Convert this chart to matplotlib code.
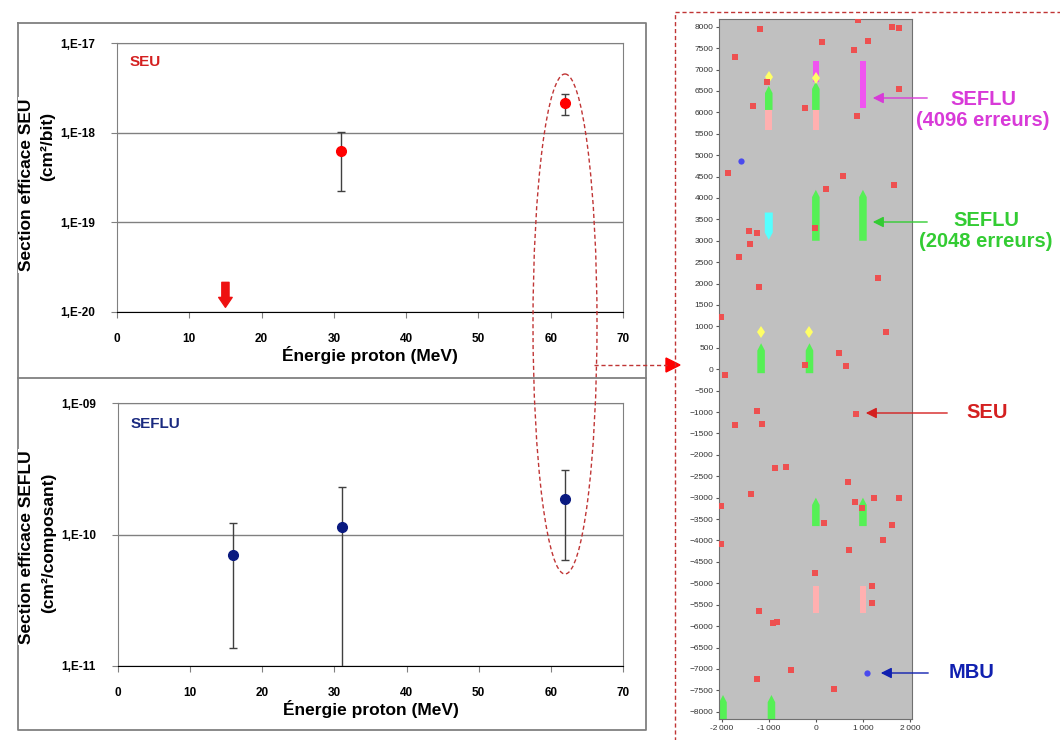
import matplotlib
matplotlib.use("Agg")
import matplotlib.pyplot as plt
from matplotlib.patches import Ellipse, Rectangle, Polygon
from matplotlib.ticker import NullLocator

plt.rcParams['font.family'] = ['Liberation Sans', 'DejaVu Sans']

W, H = 1060, 740

# ---- SEU cross section (cm2/bit) vs proton energy
seu_energy = [31, 62]
seu_sigma = [6.3e-19, 2.15e-18]
seu_low = [2.23e-19, 1.58e-18]
seu_high = [1.02e-18, 2.7e-18]
seu_limit_energy = 15          # no event seen -> down arrow

# ---- SEFLU cross section (cm2/composant)
seflu_energy = [16, 31, 62]
seflu_sigma = [7.0e-11, 1.15e-10, 1.85e-10]
seflu_low = [1.37e-11, 1e-12, 6.4e-11]
seflu_high = [1.23e-10, 2.28e-10, 3.08e-10]

seu_ticks = [1e-20, 1e-19, 1e-18, 1e-17]
seu_ticklabels = ["1,E-20", "1,E-19", "1,E-18", "1,E-17"]
seflu_ticks = [1e-11, 1e-10, 1e-9]
seflu_ticklabels = ["1,E-11", "1,E-10", "1,E-09"]
energy_ticks = [0, 10, 20, 30, 40, 50, 60, 70]

# ---- error map at 62 MeV (bitmap position)
seu_x = [-1191, -1709, 121, 901, 1610, 1766, 1113, 809, -1028, -1340, -234, 879, 1766,
         -1865, 582, 213, 1652, -1426, -1255, -1397, -21,
         -1638, -1199, -2007, 1326, 1482, 496, 645, -234, -1922, -1255, -1709, -1142, 858,
         -872, -624, 688, -1383,
         -2007, -2007, 830, 1241, 1766, 986, 170, 1610, 1418, 702, -21, 1199, 1184,
         -1199, -908, -823, -518, -1255, 383]
seu_y = [7946, 7285, 7635, 8155, 8000, 7977, 7666, 7456, 6701, 6157, 6095, 5924, 6554,
         4594, 4524, 4205, 4314, 3219, 3180, 2915, 3304,
         2617, 1931, 1215, 2142, 880, 389, 78, 101, -140, -974, -1300, -1277, -1044,
         -2313, -2274, -2640, -2905,
         -3195, -4094, -3102, -3008, -3008, -3250, -3602, -3648, -4000, -4227, -4758, -5070, -5461,
         -5641, -5930, -5906, -7023, -7227, -7477]

mbu_x = [-1589, 1078]
mbu_y = [4874, -7102]

flu2048_x = [-1000, 0, 0, 1000, -1163, -135, 0, 1000, -1972, -943]
flu2048_y0 = [6056, 6056, 3000, 3000, -93, -93, -3664, -3664, -8195, -8195]
flu2048_y1 = [6620, 6717, 4190, 4190, 607, 607, -3000, -3000, -7609, -7609]

flu4096_x = [0, 1000]
flu4096_y0 = [6717, 6095]
flu4096_y1 = [7200, 7200]

pink_x = [-1000, 0, 0, 1000]
pink_y0 = [5590, 5590, -5695, -5695]
pink_y1 = [6056, 6056, -5070, -5070]

cyan_x = [-1000]
cyan_y0 = [3023]
cyan_y1 = [3660]

yellow_x = [-1000, 0, -1163, -135]
yellow_y = [6820, 6800, 880, 880]

map_xticks = [-2000, -1000, 0, 1000, 2000]
map_xticklabels = ["-2\u2009000", "-1\u2009000", "0", "1\u2009000", "2\u2009000"]
map_yticks = list(range(-8000, 8001, 500))


def box(x0, y0, x1, y1):
    return [x0 / W, 1 - y1 / H, (x1 - x0) / W, (y1 - y0) / H]


def arrow_bar(ax, x, y0, y1, w, tip, color, up=True):
    # bar with a pointed end
    if up:
        xs = [x - w / 2, x + w / 2, x + w / 2, x, x - w / 2]
        ys = [y0, y0, y1 - tip, y1, y1 - tip]
    else:
        xs = [x - w / 2, x + w / 2, x + w / 2, x, x - w / 2]
        ys = [y1, y1, y0 + tip, y0, y0 + tip]
    ax.fill(xs, ys, color=color, lw=0, zorder=2)


def style_left(ax, ticks, ticklabels):
    ax.set_yscale('log')
    ax.set_xlim(0, 70)
    ax.set_ylim(ticks[0], ticks[-1])
    ax.set_yticks(ticks, ticklabels)
    ax.yaxis.set_minor_locator(NullLocator())
    ax.set_xticks(energy_ticks)
    ax.grid(axis='y', color='#808080', lw=1)
    for s in ['left', 'top', 'right']:
        ax.spines[s].set_color('#808080')
    ax.spines['bottom'].set_color('black')
    ax.tick_params(axis='y', length=4, color='#808080', pad=12)
    ax.tick_params(axis='x', length=4, color='#808080', pad=11)
    for lab in ax.get_xticklabels() + ax.get_yticklabels():
        lab.set_fontweight('bold')
        lab.set_fontsize(8.5)
    ax.set_xlabel("Énergie proton (MeV)", fontsize=12.5, fontweight='bold', labelpad=1)


fig = plt.figure(figsize=(W / 100, H / 100), dpi=100)

# ---- top chart: SEU
ax1 = fig.add_axes(box(117, 43, 623, 312))
ax1.errorbar(seu_energy, seu_sigma,
             yerr=[[s - l for s, l in zip(seu_sigma, seu_low)],
                   [h - s for s, h in zip(seu_sigma, seu_high)]],
             fmt='o', color='red', ms=7, ecolor='#404040', elinewidth=1, capsize=3, zorder=3)
ax1.annotate("", xy=(seu_limit_energy, 1.05e-20), xytext=(seu_limit_energy, 2.3e-20),
             arrowprops=dict(arrowstyle='simple,head_length=0.55,head_width=0.75,tail_width=0.4',
                             color='#ee1111', mutation_scale=13))
style_left(ax1, seu_ticks, seu_ticklabels)
ax1.text(0.025, 0.93, "SEU", transform=ax1.transAxes, color='#d42020', fontsize=11,
         fontweight='bold', va='center')

# ---- bottom chart: SEFLU
ax2 = fig.add_axes(box(118, 403, 623, 666))
ax2.errorbar(seflu_energy, seflu_sigma,
             yerr=[[s - l for s, l in zip(seflu_sigma, seflu_low)],
                   [h - s for s, h in zip(seflu_sigma, seflu_high)]],
             fmt='o', color='#0a1a80', ms=7, ecolor='#404040', elinewidth=1, capsize=3, zorder=3)
style_left(ax2, seflu_ticks, seflu_ticklabels)
ax2.text(0.025, 0.92, "SEFLU", transform=ax2.transAxes, color='#1a2a80', fontsize=11,
         fontweight='bold', va='center')

# ---- right: bitmap
ax3 = fig.add_axes(box(719, 19, 912, 719))
ax3.set_facecolor('#c0c0c0')
ax3.set_xlim(-2057, 2042)
ax3.set_ylim(-8170, 8180)
for x, y0, y1 in zip(pink_x, pink_y0, pink_y1):
    ax3.bar(x, y1 - y0, bottom=y0, width=140, color='#ffb0b0', lw=0, zorder=2)
for x, y0, y1 in zip(flu4096_x, flu4096_y0, flu4096_y1):
    ax3.bar(x, y1 - y0, bottom=y0, width=130, color='#f055f0', lw=0, zorder=2)
for x, y0, y1 in zip(flu2048_x, flu2048_y0, flu2048_y1):
    arrow_bar(ax3, x, y0, y1, 160, 170, '#55f055')
for x, y0, y1 in zip(cyan_x, cyan_y0, cyan_y1):
    arrow_bar(ax3, x, y0, y1, 170, 170, '#55ffff', up=False)
ax3.plot(yellow_x, yellow_y, 'd', color='#ffff66', ms=6, mew=0, zorder=3)
ax3.plot(seu_x, seu_y, 's', color='#ee5050', ms=4.5, mew=0, zorder=4)
ax3.plot(mbu_x, mbu_y, 'o', color='#4a4aee', ms=4.5, mew=0, zorder=4)
ax3.set_xticks(map_xticks, map_xticklabels)
ax3.set_yticks(map_yticks)
ax3.tick_params(labelsize=6, length=2, color='#555555', labelcolor='#333333', pad=2)
for s in ax3.spines.values():
    s.set_color('#707070')

# ---- overlay: frames, labels, ellipse, arrows
ov = fig.add_axes([0, 0, 1, 1])
ov.set_xlim(0, W)
ov.set_ylim(H, 0)
ov.axis('off')
gray = '#808080'
ov.plot([18, 646, 646, 18, 18], [23, 23, 730, 730, 23], color=gray, lw=1.3)
ov.plot([18, 646], [378, 378], color=gray, lw=1.3)

lab_kw = dict(rotation=90, ha='center', va='center', fontweight='bold', fontsize=12.5,
              bbox=dict(facecolor='white', edgecolor='none', pad=1))
ov.text(27, 185, "Section efficace SEU", **lab_kw)
ov.text(48, 146, "(cm²/bit)", rotation=90, ha='center', va='center', fontweight='bold', fontsize=12.5)
ov.text(27, 547, "Section efficace SEFLU", **lab_kw)
ov.text(49, 543, "(cm²/composant)", rotation=90, ha='center', va='center', fontweight='bold',
        fontsize=12.5)

red_dash = '#c03535'
ov.add_patch(Ellipse((565, 324), 64, 500, fill=False, edgecolor=red_dash, lw=1,
                     linestyle=(0, (3, 2))))
ov.plot([594, 667], [365, 365], color=red_dash, lw=1, linestyle=(0, (3, 2)))
ov.add_patch(Polygon([[666, 358], [666, 372], [680, 365]], closed=True, color='red'))
ov.add_patch(Rectangle((675, 12), 420, 760, fill=False, edgecolor=red_dash, lw=1,
                       linestyle=(0, (3, 2))))

ann = [("SEFLU\n(4096 erreurs)", '#d83ad8', 930, 870, 98, 983, 110),
       ("SEFLU\n(2048 erreurs)", '#33cc33', 930, 870, 222, 986, 231),
       ("SEU", '#d42020', 950, 863, 413, 987, 413),
       ("MBU", '#1020b0', 931, 878, 673, 972, 673)]
for txt, c, xa, xb, ya, xt, yt in ann:
    ov.annotate("", xy=(xb, ya), xytext=(xa, ya),
                arrowprops=dict(arrowstyle='-|>', color=c, lw=1, mutation_scale=16))
    ov.text(xt, yt, txt, color=c, fontsize=14.5, fontweight='bold', ha='center', va='center',
            linespacing=1.15)

fig.savefig("out.png", dpi=100)
